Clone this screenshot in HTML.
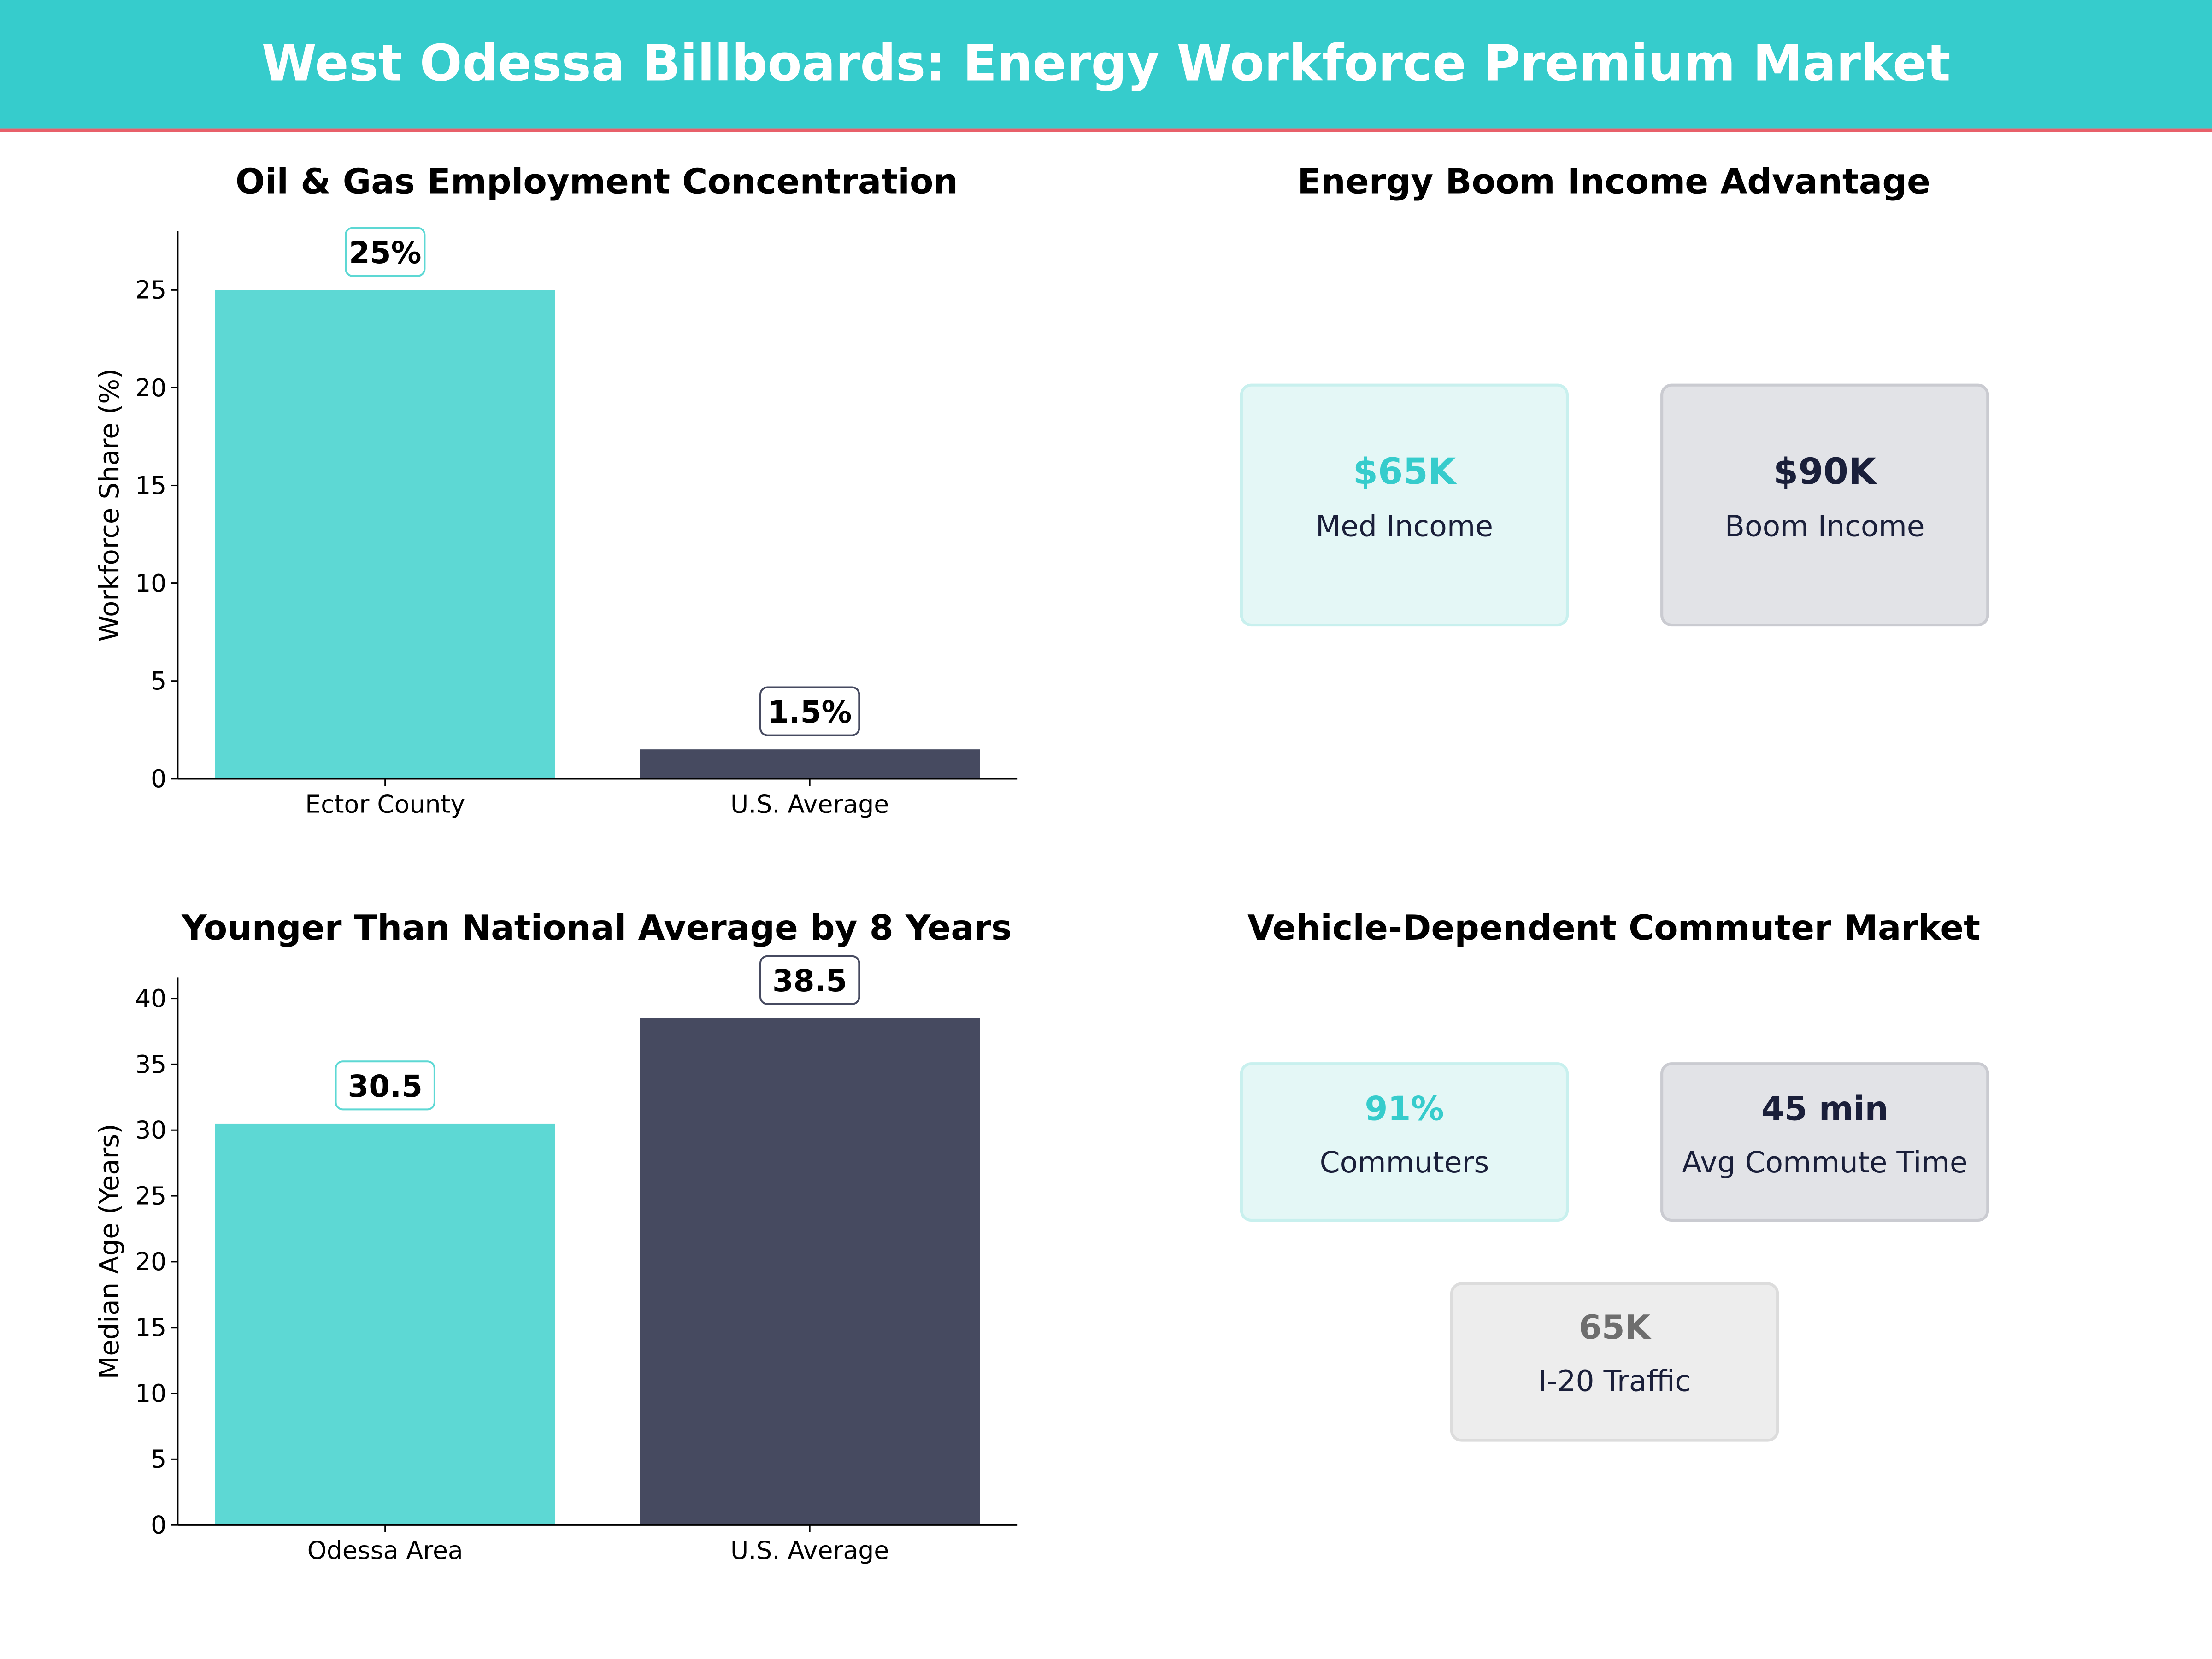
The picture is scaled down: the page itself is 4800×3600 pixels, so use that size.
<!DOCTYPE html>
<html><head><meta charset="utf-8"><style>
html,body{margin:0;padding:0;background:#fff;}
svg{display:block;font-family:"DejaVu Sans","Liberation Sans",sans-serif;}
</style></head><body>
<svg id="fig" width="4800" height="3600" viewBox="0 0 1568 1176" preserveAspectRatio="none" xmlns="http://www.w3.org/2000/svg">
<rect width="1568" height="1176" fill="#fff"/>
<rect x="0" y="0" width="1568" height="91" fill="#36CCCC"/>
<rect x="0" y="91" width="1568" height="2.5" fill="#E8606A"/>
<text x="784" y="57" text-anchor="middle" font-size="35.4" font-weight="bold" fill="#fff">West Odessa Billboards: Energy Workforce Premium Market</text>

<g id="c1"></g>
<g id="c2"></g>

<text x="1144" y="137" text-anchor="middle" font-size="24.5" font-weight="bold" fill="#000">Energy Boom Income Advantage</text>
<g>
<rect x="880" y="273" width="231" height="170" rx="7" fill="#E4F7F6" stroke="#C8F0EE" stroke-width="2"/>
<text x="995.5" y="343" text-anchor="middle" font-size="25.5" font-weight="bold" fill="#36CCCC">$65K</text>
<text x="995.5" y="380" text-anchor="middle" font-size="20.6" fill="#1A1F3A">Med Income</text></g>
<g>
<rect x="1178" y="273" width="231" height="170" rx="7" fill="#E2E3E7" stroke="#CACBD1" stroke-width="2"/>
<text x="1293.5" y="343" text-anchor="middle" font-size="25.5" font-weight="bold" fill="#1A1F3A">$90K</text>
<text x="1293.5" y="380" text-anchor="middle" font-size="20.6" fill="#1A1F3A">Boom Income</text></g>

<text x="1144" y="666" text-anchor="middle" font-size="24.5" font-weight="bold" fill="#000">Vehicle-Dependent Commuter Market</text>
<g>
<rect x="880" y="754" width="231" height="111" rx="7" fill="#E4F7F6" stroke="#C8F0EE" stroke-width="2"/>
<text x="995.5" y="794" text-anchor="middle" font-size="23.5" font-weight="bold" fill="#36CCCC">91%</text>
<text x="995.5" y="831" text-anchor="middle" font-size="20.6" fill="#1A1F3A">Commuters</text></g>
<g>
<rect x="1178" y="754" width="231" height="111" rx="7" fill="#E2E3E7" stroke="#CACBD1" stroke-width="2"/>
<text x="1293.5" y="794" text-anchor="middle" font-size="23.5" font-weight="bold" fill="#1A1F3A">45 min</text>
<text x="1293.5" y="831" text-anchor="middle" font-size="20.6" fill="#1A1F3A">Avg Commute Time</text></g>
<g>
<rect x="1029" y="910" width="231" height="111" rx="7" fill="#EDEDED" stroke="#DCDCDC" stroke-width="2"/>
<text x="1144.5" y="949" text-anchor="middle" font-size="23.5" font-weight="bold" fill="#6E6E6E">65K</text>
<text x="1144.5" y="986" text-anchor="middle" font-size="20.6" fill="#1A1F3A">I-20 Traffic</text></g>
</svg>
<script>
const empCategories = ["Ector County", "U.S. Average"];
const empValues = [25, 1.5];
const empLabels = ["25%", "1.5%"];
const empTicks = [0, 5, 10, 15, 20, 25];
const ageCategories = ["Odessa Area", "U.S. Average"];
const ageValues = [30.5, 38.5];
const ageLabels = ["30.5", "38.5"];
const ageTicks = [0, 5, 10, 15, 20, 25, 30, 35, 40];
const NS = "http://www.w3.org/2000/svg";
const barColors = ["#5DD8D4", "#464A60"];
const boxStroke = ["#5DD8D4", "#464A60"];
function mk(parent, tag, attrs, text) {
  const e = document.createElementNS(NS, tag);
  for (const k in attrs) e.setAttribute(k, attrs[k]);
  if (text !== undefined) e.textContent = text;
  parent.appendChild(e);
  return e;
}
function drawChart(g, cfg) {
  const x0 = 126, x1 = 721, yBase = cfg.yBase, yTop = cfg.yTop, ymax = cfg.ymax;
  const y = v => yBase - (v / ymax) * (yBase - yTop);
  const bw = 241;
  const t = mk(g, "text", {x: 423, y: cfg.titleY, "text-anchor": "middle", "font-size": 24.5, "font-weight": "bold"}, cfg.title);
  
  
  cfg.values.forEach((v, i) => {
    const cx = x0 + 147 + i * 301;
    const r = mk(g, "rect", {x: cx - bw / 2, y: y(v), width: bw, height: yBase - y(v), fill: barColors[i]});
    
    
    const ly = y(v) - 27;
    const w = cfg.labels[i].length * 14 + 14;
    const b = mk(g, "rect", {x: cx - w / 2, y: ly - 17, width: w, height: 34, rx: 5, fill: "#fff", stroke: boxStroke[i], "stroke-width": 1.3});
    
    
    const lt = mk(g, "text", {x: cx, y: ly + 8, "text-anchor": "middle", "font-size": 21.5, "font-weight": "bold"}, cfg.labels[i]);
    
    
    mk(g, "line", {x1: cx, x2: cx, y1: yBase, y2: yBase + 5, stroke: "#000", "stroke-width": 1});
    const xt = mk(g, "text", {x: cx, y: yBase + 24, "text-anchor": "middle", "font-size": 17.5}, cfg.cats[i]);
    
    
  });
  cfg.ticks.forEach(v => {
    mk(g, "line", {x1: x0 - 5, x2: x0, y1: y(v), y2: y(v), stroke: "#000", "stroke-width": 1});
    const tt = mk(g, "text", {x: x0 - 8, y: y(v) + 6, "text-anchor": "end", "font-size": 17.5}, String(v));
    
    
  });
  const ax = mk(g, "line", {x1: x0, x2: x0, y1: yTop, y2: yBase, stroke: "#000", "stroke-width": 1.1});
  
  
  const axx = mk(g, "line", {x1: x0, x2: x1, y1: yBase, y2: yBase, stroke: "#000", "stroke-width": 1.1});
  
  
  const yl = mk(g, "text", {x: 0, y: 0, "text-anchor": "middle", "font-size": 18.8, transform: "translate(84," + ((yTop + yBase) / 2) + ") rotate(-90)"}, cfg.ylabel);
  
  
}
drawChart(document.getElementById("c1"), {cats: empCategories, values: empValues, labels: empLabels, ticks: empTicks, yBase: 552, yTop: 164, ymax: 25 * 1.12, titleY: 137, title: "Oil & Gas Employment Concentration", ylabel: "Workforce Share (%)"});
drawChart(document.getElementById("c2"), {cats: ageCategories, values: ageValues, labels: ageLabels, ticks: ageTicks, yBase: 1081, yTop: 693, ymax: 38.5 * 1.08, titleY: 666, title: "Younger Than National Average by 8 Years", ylabel: "Median Age (Years)"});
</script>
</body></html>
